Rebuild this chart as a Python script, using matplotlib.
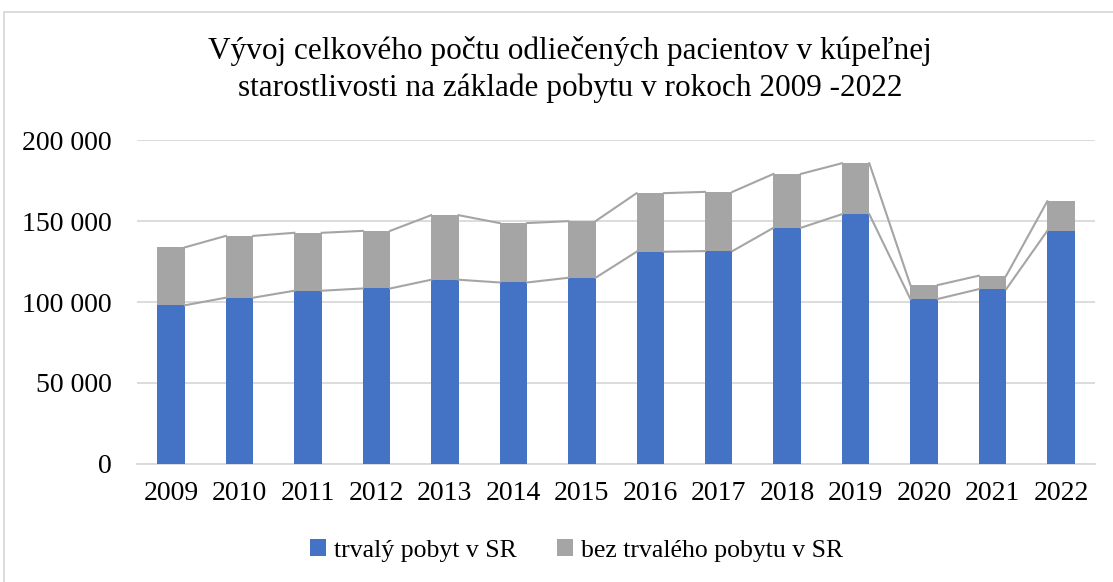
import numpy as np
import matplotlib.pyplot as plt
from matplotlib.patches import Rectangle
from matplotlib.ticker import FuncFormatter

# -------------------------------------------------
# Data
# -------------------------------------------------
years = ["2009", "2010", "2011", "2012", "2013", "2014", "2015",
         "2016", "2017", "2018", "2019", "2020", "2021", "2022"]
trvaly_pobyt = [98000, 102700, 107000, 108400, 113800, 112100, 115000,
                131100, 131500, 145900, 154300, 101900, 108000, 144000]
celkom = [133800, 140900, 142800, 144000, 153700, 148800, 150000,
          167300, 168100, 179200, 185800, 110500, 116300, 162300]
bez_trvaleho = [c - t for c, t in zip(celkom, trvaly_pobyt)]

BLUE = "#4472c4"
GRAY = "#a5a5a5"
LINE = "#a5a5a5"

plt.rcParams["font.family"] = ["Liberation Serif", "DejaVu Serif"]

fig = plt.figure(figsize=(11.13, 5.82), dpi=100)
ax = fig.add_axes([0.123, 0.203, 0.861, 0.556])

x = np.arange(len(years))
width = 0.4
ax.bar(x, trvaly_pobyt, width, color=BLUE, label="trvalý pobyt v SR", zorder=3)
ax.bar(x, bez_trvaleho, width, bottom=trvaly_pobyt, color=GRAY,
       label="bez trvalého pobytu v SR", zorder=3)

# series lines (Excel style): right edge of one bar to left edge of the next
for level in (trvaly_pobyt, celkom):
    for i in range(len(years) - 1):
        ax.plot([x[i] + width / 2, x[i + 1] - width / 2], [level[i], level[i + 1]],
                color=LINE, lw=1.5, zorder=4)

ax.set_xlim(-0.5, len(years) - 0.5)
ax.set_ylim(0, 200000)
ax.set_yticks(np.arange(0, 200001, 50000))
ax.yaxis.set_major_formatter(FuncFormatter(lambda v, p: f"{int(v):,}".replace(",", " ")))
ax.set_xticks(x)
ax.set_xticklabels(years)
ax.grid(axis="y", color="#d9d9d9", lw=1.3, zorder=0)
ax.tick_params(axis="both", length=0, labelsize=20, colors="#000000")
ax.tick_params(axis="x", pad=12)
ax.tick_params(axis="y", pad=18)
for s in ("top", "right", "left"):
    ax.spines[s].set_visible(False)
ax.spines["bottom"].set_color("#d9d9d9")
ax.spines["bottom"].set_linewidth(1.3)

fig.text(0.512, 0.881, "Vývoj celkového počtu odliečených pacientov v kúpeľnej\n"
         "starostlivosti na základe pobytu v rokoch 2009 -2022",
         ha="center", va="center", fontsize=22.5, linespacing=1.33)

leg = fig.legend(loc="center", bbox_to_anchor=(0.518, 0.054), ncol=2, frameon=False,
                 fontsize=18.5, handlelength=0.6, handleheight=0.6, handletextpad=0.3,
                 columnspacing=1.6)

# chart area border
fig.patches.append(Rectangle((4 / 1113, -0.01), 1.02, 1 - 12 / 582 + 0.01,
                             transform=fig.transFigure, fill=False,
                             edgecolor="#d9d9d9", lw=1.3))

fig.savefig("out.png", dpi=100)
